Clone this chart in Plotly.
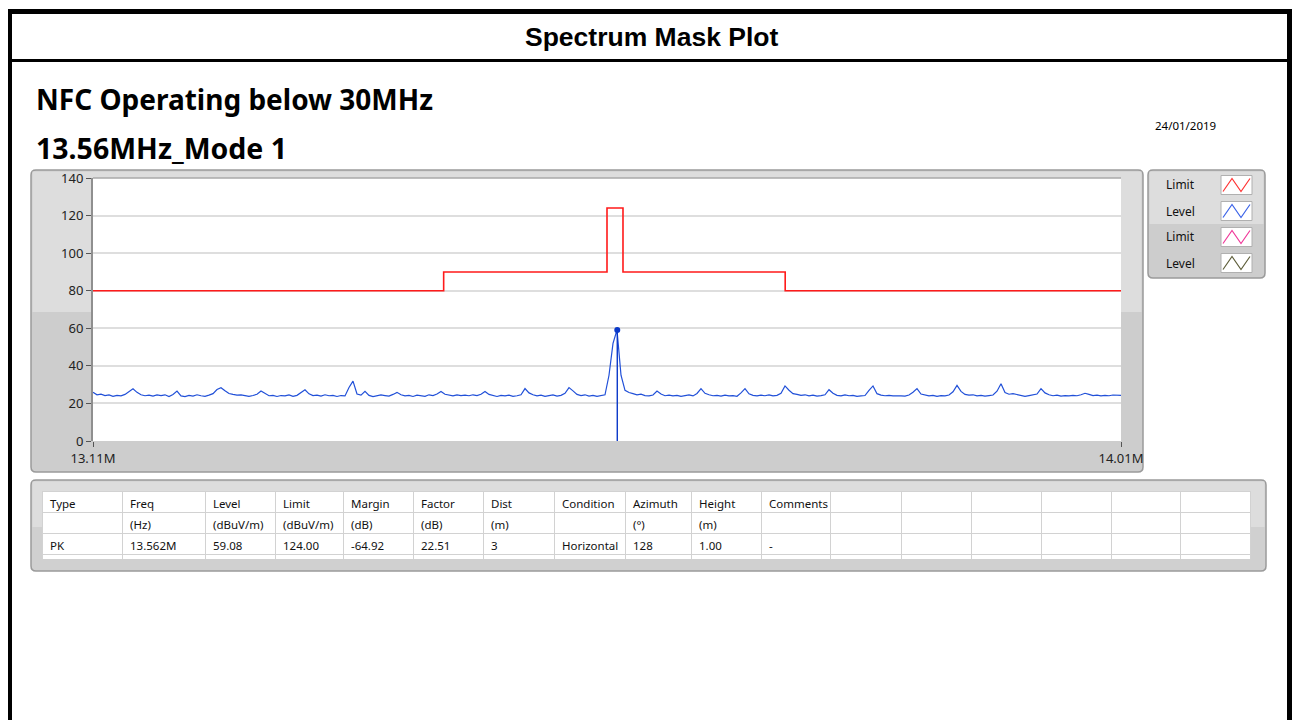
import numpy as np
import plotly.graph_objects as go

W, H = 1293, 720

# ---------------- data ----------------
freq_start_hz = 13.11e6
freq_stop_hz = 14.01e6
n_points = 258

level_dbuv = [
    26.0, 24.6, 24.9, 24.2, 24.5, 23.8, 24.3, 24.0, 24.8, 26.3,
    27.8, 25.9, 24.6, 24.1, 24.4, 23.9, 24.5, 24.2, 24.6, 23.7,
    24.8, 26.6, 24.0, 23.6, 24.3, 23.9, 24.6, 24.1, 23.8, 24.4,
    25.2, 27.4, 28.4, 26.8, 25.3, 24.8, 24.4, 24.6, 24.0, 23.8,
    24.2, 24.9, 26.6, 25.5, 24.1, 24.3, 23.7, 24.2, 24.0, 24.5,
    23.8, 24.3, 25.8, 27.3, 25.1, 24.2, 24.4, 23.9, 24.6, 24.1,
    24.3, 23.7, 24.2, 24.0, 28.5, 31.9, 25.0, 24.4, 26.4, 24.3,
    23.6, 24.1, 24.5, 24.2, 23.9, 24.8, 25.9, 24.6, 24.0, 24.3,
    23.7, 24.4, 24.1, 23.8, 24.6, 24.2, 25.0, 26.4, 24.9, 24.3,
    24.0, 24.5, 24.2, 24.4, 24.1, 24.6, 24.2, 24.9, 26.4, 24.8,
    24.1, 23.7, 24.3, 24.0, 24.4, 23.8, 24.1, 24.6, 27.9, 25.6,
    24.6, 24.0, 24.4, 23.8, 24.2, 24.5, 23.9, 24.3, 25.4, 28.4,
    26.7, 24.8, 24.2, 24.6, 23.9, 24.3, 23.8, 24.2, 24.6, 35.0,
    52.0, 59.08, 35.0, 27.0, 25.8, 25.2, 24.6, 24.9, 24.2, 24.0,
    24.5, 26.6, 25.0, 24.1, 24.4, 24.0, 24.3, 23.8, 24.2, 24.5,
    24.0, 25.3, 27.9, 25.4, 24.6, 24.1, 24.3, 23.9, 24.4, 24.0,
    24.2, 23.8, 25.6, 27.9, 25.1, 24.3, 24.0, 24.4, 24.1, 24.5,
    24.0, 24.3, 25.4, 29.3, 27.0, 25.2, 24.8, 24.3, 24.6, 24.0,
    24.4, 23.9, 24.2, 24.6, 27.3, 25.4, 24.3, 24.0, 24.5, 24.1,
    24.3, 23.8, 24.0, 24.2, 27.0, 29.3, 25.2, 24.4, 24.1, 24.3,
    24.0, 24.2, 24.0, 23.9, 24.5, 26.0, 27.9, 25.0, 24.6, 24.0,
    24.3, 23.8, 24.2, 24.0, 24.5, 26.2, 29.6, 26.4, 24.8, 24.4,
    24.6, 24.0, 24.3, 23.9, 24.2, 24.5, 26.5, 30.5, 25.8, 24.9,
    25.2, 24.7, 24.3, 23.8, 24.2, 24.4, 25.0, 27.9, 25.6, 24.6,
    24.1, 24.4, 23.9, 24.2, 24.0, 24.3, 24.1, 24.6, 25.4, 24.8,
    24.2, 24.4, 24.0, 24.3, 24.1, 24.5, 24.2, 24.3,
]

limit_freq_hz = [13.11e6, 13.417e6, 13.560e6, 13.574e6, 13.716e6, 14.01e6]
limit_dbuv = [80, 90, 124, 90, 80, 80]

marker_freq_hz = 13.569e6
marker_level_dbuv = 59.08

y_tick_vals = [0, 20, 40, 60, 80, 100, 120, 140]
x_tick_vals = [13.11e6, 14.01e6]
x_tick_text = ["13.11M", "14.01M"]

legend_names = ["Limit", "Level", "Limit", "Level"]
legend_colors = ["#ff3333", "#3b63e8", "#f0399a", "#5e5e3a"]

table_headers = ["Type", "Freq", "Level", "Limit", "Margin", "Factor", "Dist",
                 "Condition", "Azimuth", "Height", "Comments", "", "", "", "", "", ""]
table_units = ["", "(Hz)", "(dBuV/m)", "(dBuV/m)", "(dB)", "(dB)", "(m)",
               "", "(°)", "(m)", "", "", "", "", "", "", ""]
table_pk_row = ["PK", "13.562M", "59.08", "124.00", "-64.92", "22.51", "3",
                "Horizontal", "128", "1.00", "-", "", "", "", "", "", ""]
table_col_widths = [80, 83, 70, 68, 70, 70, 71, 71, 66, 70, 69, 71, 70, 70, 70, 69, 70]

title_text = "Spectrum Mask Plot"
heading_1 = "NFC Operating below 30MHz"
heading_2 = "13.56MHz_Mode 1"
date_text = "24/01/2019"

# ---------------- helpers (pixel -> paper) ----------------
def px(x):
    return x / W


def py(y):
    return 1 - y / H


def rrect_path(x0, y0, x1, y1, r):
    rx, ry = r / W, r / H
    X0, X1 = px(x0), px(x1)
    Y0, Y1 = py(y0), py(y1)  # Y0 top (larger), Y1 bottom
    return (f"M {X0+rx},{Y0} L {X1-rx},{Y0} Q {X1},{Y0} {X1},{Y0-ry} "
            f"L {X1},{Y1+ry} Q {X1},{Y1} {X1-rx},{Y1} L {X0+rx},{Y1} "
            f"Q {X0},{Y1} {X0},{Y1+ry} L {X0},{Y0-ry} Q {X0},{Y0} {X0+rx},{Y0} Z")


def rect(x0, y0, x1, y1, fill, line=None, lw=0):
    return dict(type="rect", xref="paper", yref="paper",
                x0=px(x0), x1=px(x1), y0=py(y1), y1=py(y0),
                fillcolor=fill, line=dict(color=line or fill, width=lw), layer="below")


freq_hz = np.linspace(freq_start_hz, freq_stop_hz, n_points)

UI_FONT = "Noto Sans"

fig = go.Figure()

fig.add_trace(go.Scatter(x=limit_freq_hz, y=limit_dbuv, mode="lines",
                         line=dict(color="#ff1a1a", width=1.6, shape="hv"),
                         name="Limit", showlegend=False, hoverinfo="skip"))
fig.add_trace(go.Scatter(x=freq_hz, y=level_dbuv, mode="lines",
                         line=dict(color="#2150d8", width=1.2),
                         name="Level", showlegend=False))
fig.add_trace(go.Scatter(x=[marker_freq_hz, marker_freq_hz], y=[0, marker_level_dbuv],
                         mode="lines", line=dict(color="#0a38c8", width=1.4),
                         showlegend=False, hoverinfo="skip"))
fig.add_trace(go.Scatter(x=[marker_freq_hz], y=[marker_level_dbuv], mode="markers",
                         marker=dict(color="#0a38c8", size=6),
                         showlegend=False))

# table
cells_vals = [[u, p, ""] for u, p in zip(table_units, table_pk_row)]
fig.add_trace(go.Table(
    domain=dict(x=[px(42), px(1250)], y=[py(559), py(491)]),
    columnwidth=table_col_widths,
    header=dict(values=table_headers, align="left", height=21,
                fill_color="white", line=dict(color="#d2d2d2", width=1),
                font=dict(family=UI_FONT, size=11.5, color="#111")),
    cells=dict(values=cells_vals, align="left", height=21,
               fill_color="white", line=dict(color="#d2d2d2", width=1),
               font=dict(family=UI_FONT, size=11.5, color="#111")),
))

shapes = []
# outer black frame
shapes.append(rect(8, 9, 1292, 14, "black"))
shapes.append(rect(8, 9, 12, 730, "black"))
shapes.append(rect(1287, 9, 1292, 730, "black"))
shapes.append(rect(8, 59, 1292, 62, "black"))

# chart panel
shapes.append(dict(type="path", xref="paper", yref="paper", path=rrect_path(31, 170, 1143, 472, 5),
                   fillcolor="#cdcdcd", line=dict(color="#9a9a9a", width=1.5), layer="below"))
shapes.append(rect(32.5, 171.5, 1141.5, 312, "#dddddd"))
# white plot area
shapes.append(dict(type="rect", xref="x domain", yref="y domain", x0=0, x1=1, y0=0, y1=1,
                   fillcolor="white", line=dict(width=0), layer="below"))
shapes.append(dict(type="line", xref="x domain", yref="y domain", x0=0, x1=1, y0=1, y1=1,
                   line=dict(color="#a8a8a8", width=1.5), layer="above"))

# legend panel
shapes.append(dict(type="path", xref="paper", yref="paper", path=rrect_path(1148, 170, 1265, 278, 5),
                   fillcolor="#cdcdcd", line=dict(color="#9a9a9a", width=1.5), layer="below"))
shapes.append(rect(1149.5, 171.5, 1263.5, 224, "#dddddd"))
row_centers = [185, 211, 237, 263]
for yc, col in zip(row_centers, legend_colors):
    x0, x1 = 1221, 1252
    y0, y1 = yc - 9.5, yc + 9.5
    shapes.append(dict(type="rect", xref="paper", yref="paper",
                       x0=px(x0), x1=px(x1), y0=py(y1), y1=py(y0),
                       fillcolor="white", line=dict(color="#b0b0b0", width=1), layer="above"))
    pts = [(x0 + 2, y1 - 3), (x0 + 11, y0 + 3), (x0 + 20, y1 - 3), (x1 - 2, y0 + 3)]
    path = "M " + " L ".join(f"{px(a)},{py(b)}" for a, b in pts)
    shapes.append(dict(type="path", xref="paper", yref="paper", path=path,
                       line=dict(color=col, width=1.2), layer="above"))

# table panel
shapes.append(dict(type="path", xref="paper", yref="paper", path=rrect_path(31, 480, 1266, 571, 5),
                   fillcolor="#d0d0d0", line=dict(color="#9a9a9a", width=1.5), layer="below"))
shapes.append(rect(32.5, 481.5, 1264.5, 527, "#dddddd"))
shapes.append(rect(42, 491, 1250, 559, "white"))

annotations = [
    dict(text=f"<b>{title_text}</b>", x=px(651), y=py(37), xref="paper", yref="paper",
         showarrow=False, xanchor="center", yanchor="middle",
         font=dict(family="Liberation Sans", size=26.5, color="black")),
    dict(text=f"<b>{heading_1}</b>", x=px(34), y=py(99), xref="paper", yref="paper",
         showarrow=False, xanchor="left", yanchor="middle",
         font=dict(family=UI_FONT, size=28, color="black")),
    dict(text=f"<b>{heading_2}</b>", x=px(34), y=py(148), xref="paper", yref="paper",
         showarrow=False, xanchor="left", yanchor="middle",
         font=dict(family=UI_FONT, size=28.5, color="black")),
    dict(text=date_text, x=px(1185), y=py(125), xref="paper", yref="paper",
         showarrow=False, xanchor="center", yanchor="middle",
         font=dict(family=UI_FONT, size=11.5, color="black")),
]
for yc, name in zip(row_centers, legend_names):
    annotations.append(dict(text=name, x=px(1164), y=py(yc), xref="paper", yref="paper",
                            showarrow=False, xanchor="left", yanchor="middle",
                            font=dict(family=UI_FONT, size=12, color="#111")))

fig.update_layout(
    width=W, height=H,
    margin=dict(l=0, r=0, t=0, b=0, pad=0, autoexpand=False),
    paper_bgcolor="white", plot_bgcolor="white",
    shapes=shapes, annotations=annotations,
    showlegend=False,
    xaxis=dict(domain=[px(93), px(1121)], range=[freq_start_hz, freq_stop_hz],
               tickvals=x_tick_vals, ticktext=x_tick_text,
               ticks="outside", ticklen=5, tickcolor="#555", tickwidth=1,
               showgrid=False, zeroline=False, showline=False, automargin=False,
               tickfont=dict(family=UI_FONT, size=13, color="#222")),
    yaxis=dict(domain=[py(441), py(178)], range=[0, 140],
               tickvals=y_tick_vals, ticks="outside", ticklen=5, tickcolor="#555",
               tickwidth=1, showgrid=True, gridcolor="#dedede", gridwidth=1.5,
               zeroline=False, showline=True, linecolor="#8f8f8f", linewidth=2,
               automargin=False,
               tickfont=dict(family=UI_FONT, size=13, color="#222")),
)

fig.write_html("out.html", config={"displayModeBar": False},
               post_script="document.body.style.margin='0';document.body.style.overflow='hidden';")
